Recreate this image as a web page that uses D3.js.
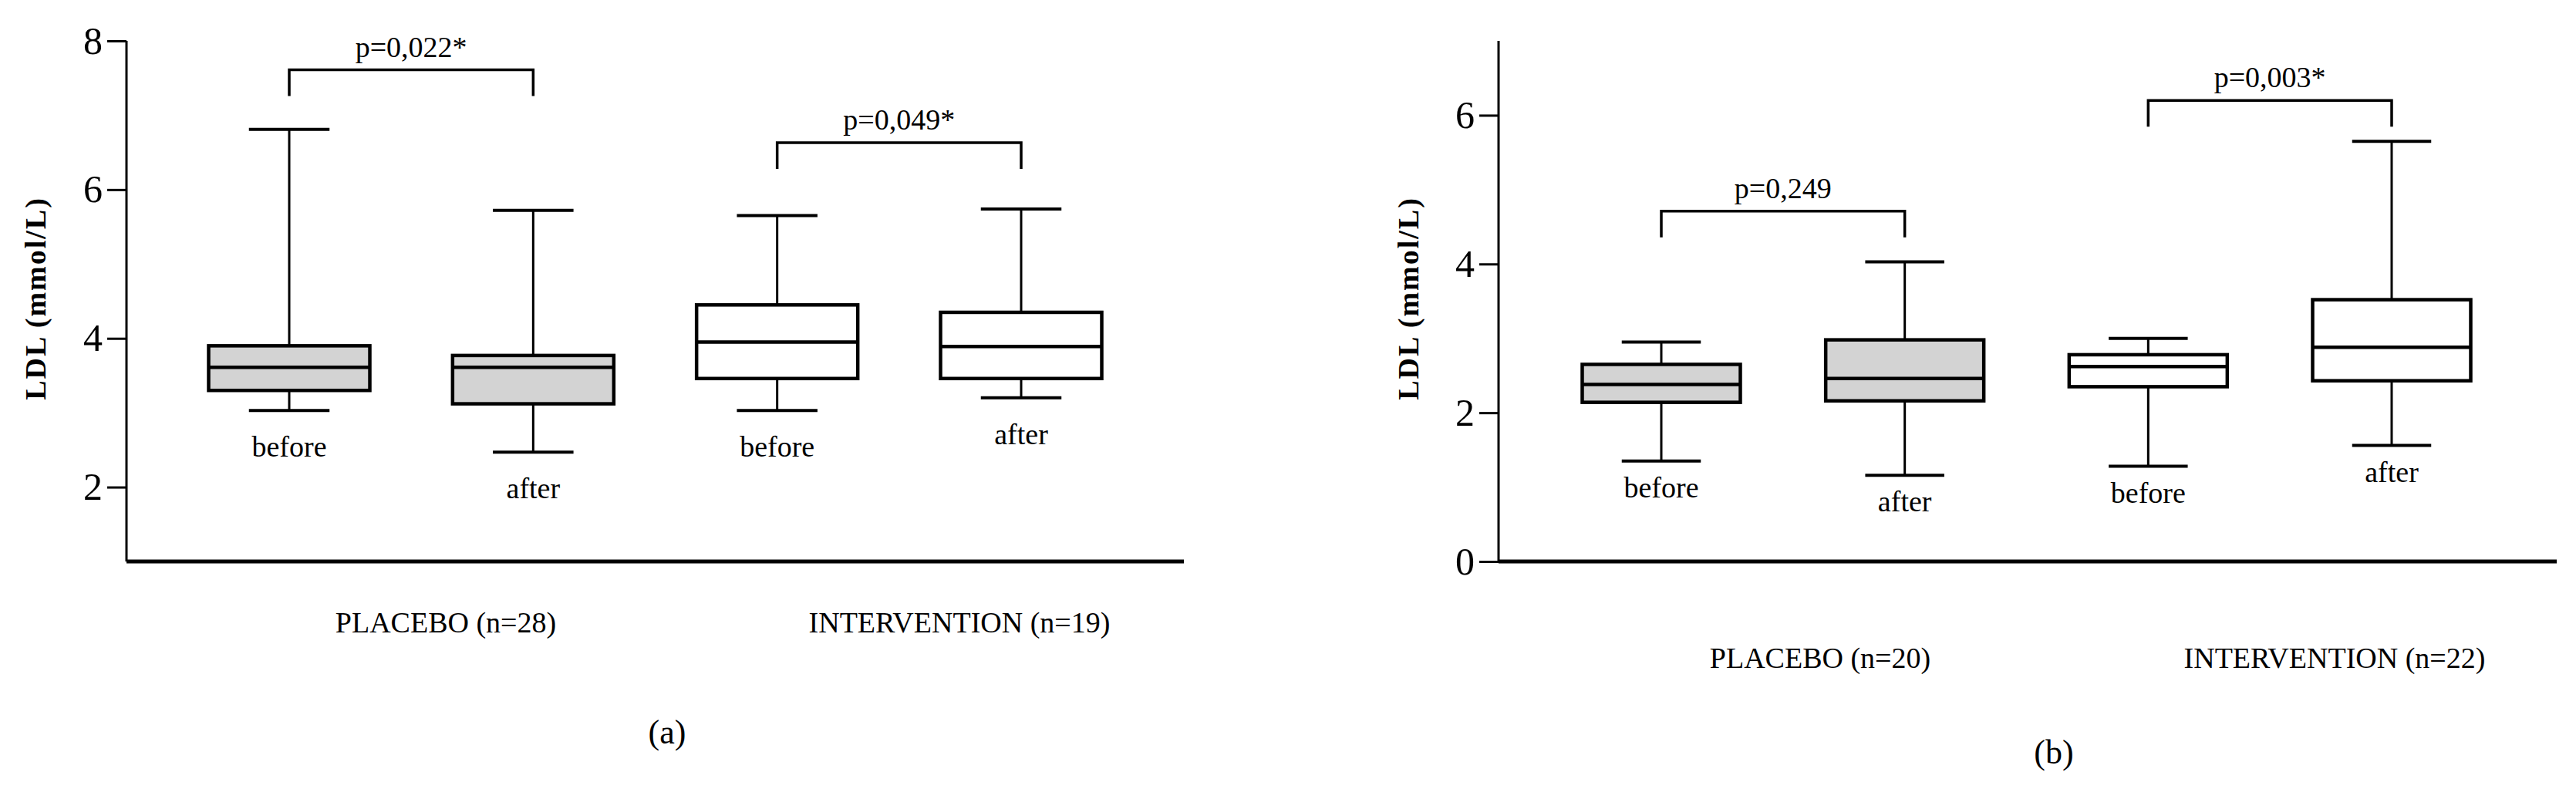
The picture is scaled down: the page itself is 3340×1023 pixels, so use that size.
<!DOCTYPE html>
<html lang="en">
<head>
<meta charset="utf-8">
<script src="https://d3js.org/d3.v7.min.js"></script>
<style>
  body { margin: 0; background: #fff; }
  text { font-family: "Liberation Serif", serif; fill: #000; }
</style>
</head>
<body>
<svg id="chart" width="3340" height="1023"></svg>
<script>
// panel (a)
const groupsA = ['PLACEBO (n=28)', 'INTERVENTION (n=19)'];
const boxLabelsA = ['before', 'after', 'before', 'after'];
const minA = [3.03, 2.47, 3.03, 3.20];
const q1A = [3.30, 3.12, 3.46, 3.46];
const medA = [3.61, 3.61, 3.95, 3.89];
const q3A = [3.90, 3.77, 4.45, 4.35];
const maxA = [6.81, 5.72, 5.65, 5.74];
const pTextA = ['p=0,022*', 'p=0,049*'];
const pBarA = [7.61, 6.63];
const ticksA = [2, 4, 6, 8];

// panel (b)
const groupsB = ['PLACEBO (n=20)', 'INTERVENTION (n=22)'];
const boxLabelsB = ['before', 'after', 'before', 'after'];
const minB = [1.35, 1.16, 1.28, 1.56];
const q1B = [2.14, 2.16, 2.35, 2.43];
const medB = [2.38, 2.46, 2.62, 2.88];
const q3B = [2.65, 2.98, 2.78, 3.52];
const maxB = [2.95, 4.03, 3.00, 5.65];
const pTextB = ['p=0,249', 'p=0,003*'];
const pBarB = [4.71, 6.20];
const ticksB = [0, 2, 4, 6];

const fills = ['#d3d3d3', '#d3d3d3', '#fff', '#fff'];
const svg = d3.select('#chart');

function drawPanel(o) {
  const g = svg.append('g');
  const y = d3.scaleLinear().domain(o.domain).range([728, o.top]);
  const x = d3.scalePoint().domain(d3.range(4)).range(o.centers);

  // axes
  g.append('g').attr('transform', `translate(${o.left},0)`)
    .call(d3.axisLeft(y).tickValues(o.ticks).tickSize(25).tickPadding(6).tickFormat(d3.format('d')))
    .call(a => a.select('.domain').attr('stroke-width', 3).attr('d', `M-0,${y(o.domain[1])}V728`))
    .call(a => a.selectAll('.tick line').attr('stroke-width', 3))
    .call(a => a.selectAll('.tick text').style('font-size', '50px').style('font-family', '"Liberation Serif", serif'));
  g.append('line').attr('x1', o.left).attr('x2', o.right).attr('y1', 728).attr('y2', 728)
    .attr('stroke', '#000').attr('stroke-width', 5);

  g.append('text').attr('transform', `translate(${o.ylabX},387) rotate(-90)`)
    .attr('text-anchor', 'middle').style('font-size', '38px').style('font-weight', 'bold')
    .style('letter-spacing', '2px').text('LDL (mmol/L)');

  const w = o.boxW;
  const boxes = g.selectAll('g.box').data(d3.range(4)).join('g').attr('class', 'box');
  boxes.append('line').attr('x1', i => x(i)).attr('x2', i => x(i))
    .attr('y1', i => y(o.max[i])).attr('y2', i => y(o.min[i])).attr('stroke', '#000').attr('stroke-width', 3);
  boxes.append('line').attr('x1', i => x(i) - w / 4).attr('x2', i => x(i) + w / 4)
    .attr('y1', i => y(o.max[i])).attr('y2', i => y(o.max[i])).attr('stroke', '#000').attr('stroke-width', 4);
  boxes.append('line').attr('x1', i => x(i) - w / 4).attr('x2', i => x(i) + w / 4)
    .attr('y1', i => y(o.min[i])).attr('y2', i => y(o.min[i])).attr('stroke', '#000').attr('stroke-width', 4);
  boxes.append('rect').attr('x', i => x(i) - w / 2).attr('width', w)
    .attr('y', i => y(o.q3[i])).attr('height', i => y(o.q1[i]) - y(o.q3[i]))
    .attr('fill', i => fills[i]).attr('stroke', '#000').attr('stroke-width', 4.5);
  boxes.append('line').attr('x1', i => x(i) - w / 2).attr('x2', i => x(i) + w / 2)
    .attr('y1', i => y(o.med[i])).attr('y2', i => y(o.med[i])).attr('stroke', '#000').attr('stroke-width', 4.5);
  boxes.append('text').attr('x', i => x(i)).attr('y', i => y(o.min[i]) + o.labOff)
    .attr('text-anchor', 'middle').style('font-size', '38px').text(i => o.boxLabels[i]);

  // significance brackets
  [0, 1].forEach(k => {
    const x1 = x(2 * k), x2 = x(2 * k + 1), yb = y(o.pBar[k]);
    g.append('path').attr('d', `M${x1},${yb + 34}V${yb}H${x2}V${yb + 34}`)
      .attr('fill', 'none').attr('stroke', '#000').attr('stroke-width', 3.5);
    g.append('text').attr('x', (x1 + x2) / 2).attr('y', yb - 17)
      .attr('text-anchor', 'middle').style('font-size', '38px').text(o.pText[k]);
    g.append('text').attr('x', o.groupX[k]).attr('y', o.groupY)
      .attr('text-anchor', 'middle').style('font-size', '38px').text(o.groups[k]);
  });

  g.append('text').attr('x', o.capX).attr('y', o.capY).attr('text-anchor', 'middle')
    .style('font-size', '44px').text(o.caption);
}

drawPanel({
  domain: [1, 8], top: 53, left: 164, right: 1535, centers: [375, 1324], boxW: 209,
  ticks: ticksA, min: minA, q1: q1A, med: medA, q3: q3A, max: maxA,
  boxLabels: boxLabelsA, labOff: 60, pText: pTextA, pBar: pBarA,
  groups: groupsA, groupX: [578, 1244], groupY: 820, ylabX: 59,
  caption: '(a)', capX: 865, capY: 964
});
drawPanel({
  domain: [0, 7], top: 53, left: 1943, right: 3315, centers: [2154, 3101], boxW: 205,
  ticks: ticksB, min: minB, q1: q1B, med: medB, q3: q3B, max: maxB,
  boxLabels: boxLabelsB, labOff: 47, pText: pTextB, pBar: pBarB,
  groups: groupsB, groupX: [2360, 3027], groupY: 866, ylabX: 1839,
  caption: '(b)', capX: 2663, capY: 990
});
</script>
</body>
</html>
